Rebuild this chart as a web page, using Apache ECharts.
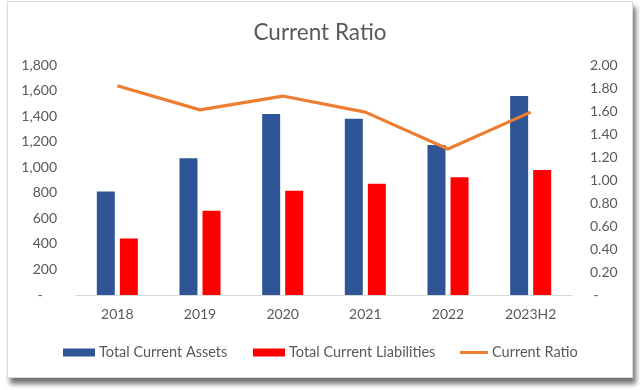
<!DOCTYPE html>
<html>
<head>
<meta charset="utf-8">
<script src="https://cdn.jsdelivr.net/npm/echarts@6/dist/echarts.min.js"></script>
<style>
html,body{margin:0;padding:0;background:#fff;width:640px;height:390px;overflow:hidden;}
#card{position:absolute;left:7px;top:1px;width:624px;height:375px;background:#fff;border:1px solid #dcdcdc;box-shadow:3px 6px 5px rgba(0,0,0,0.55);}
#chart{position:absolute;left:0;top:0;width:640px;height:390px;}
</style>
</head>
<body>
<div id="card"></div>
<div id="chart"></div>
<script>
const categories = ['2018', '2019', '2020', '2021', '2022', '2023H2'];
const totalCurrentAssets = [810, 1070, 1416, 1380, 1174, 1557];
const totalCurrentLiabilities = [443, 660, 816, 871, 921, 978];
const currentRatio = [1.82, 1.61, 1.73, 1.59, 1.27, 1.59];
const leftTicks = [0, 1800, 200];
const rightTicks = [0, 2, 0.2];

const txt = '#595959';
const font = 'Lato';
const chart = echarts.init(document.getElementById('chart'), null, {renderer: 'canvas'});
const legendBase = {top: 345, padding: 0, itemHeight: 8, itemWidth: 32, itemGap: 20,
  textStyle: {color: txt, fontSize: 14.5, fontFamily: font, padding: [0, 0, 0, -1]}, icon: 'rect', selectedMode: false};
chart.setOption({
  backgroundColor: 'transparent',
  animation: false,
  title: {text: 'Current Ratio', left: 'center', top: 16,
    textStyle: {color: txt, fontSize: 22.5, fontWeight: 'normal', fontFamily: font}},
  grid: {left: 76, right: 68, top: 65, bottom: 95},
  legend: [
    Object.assign({}, legendBase, {left: 63, data: ['Total Current Assets']}),
    Object.assign({}, legendBase, {left: 253, data: ['Total Current Liabilities']}),
    Object.assign({}, legendBase, {left: 460, itemWidth: 28, itemHeight: 3, data: ['Current Ratio']})
  ],
  xAxis: {type: 'category', data: categories,
    axisLine: {lineStyle: {color: '#d9d9d9'}}, axisTick: {show: false},
    axisLabel: {color: txt, fontSize: 14, fontFamily: font, margin: 12}},
  yAxis: [
    {type: 'value', min: leftTicks[0], max: leftTicks[1], interval: leftTicks[2],
      splitLine: {show: false}, axisLine: {show: false}, axisTick: {show: false},
      axisLabel: {color: txt, fontSize: 14, fontFamily: font, margin: 19,
        formatter: v => v === 0 ? '-    ' : v.toLocaleString('en-US')}},
    {type: 'value', min: rightTicks[0], max: rightTicks[1], interval: rightTicks[2],
      splitLine: {show: false}, axisLine: {show: false}, axisTick: {show: false},
      axisLabel: {color: txt, fontSize: 14, fontFamily: font, margin: 18,
        formatter: v => v === 0 ? ' -' : v.toFixed(2)}}
  ],
  series: [
    {name: 'Total Current Assets', type: 'bar', data: totalCurrentAssets, barWidth: 18, barGap: '28%',
      itemStyle: {color: '#2F5597'}},
    {name: 'Total Current Liabilities', type: 'bar', data: totalCurrentLiabilities, barWidth: 18,
      itemStyle: {color: '#FF0000'}},
    {name: 'Current Ratio', type: 'line', yAxisIndex: 1, data: currentRatio, showSymbol: false, symbol: 'none',
      lineStyle: {color: '#ED7D31', width: 3.2}, itemStyle: {color: '#ED7D31'}}
  ]
});
</script>
</body>
</html>
